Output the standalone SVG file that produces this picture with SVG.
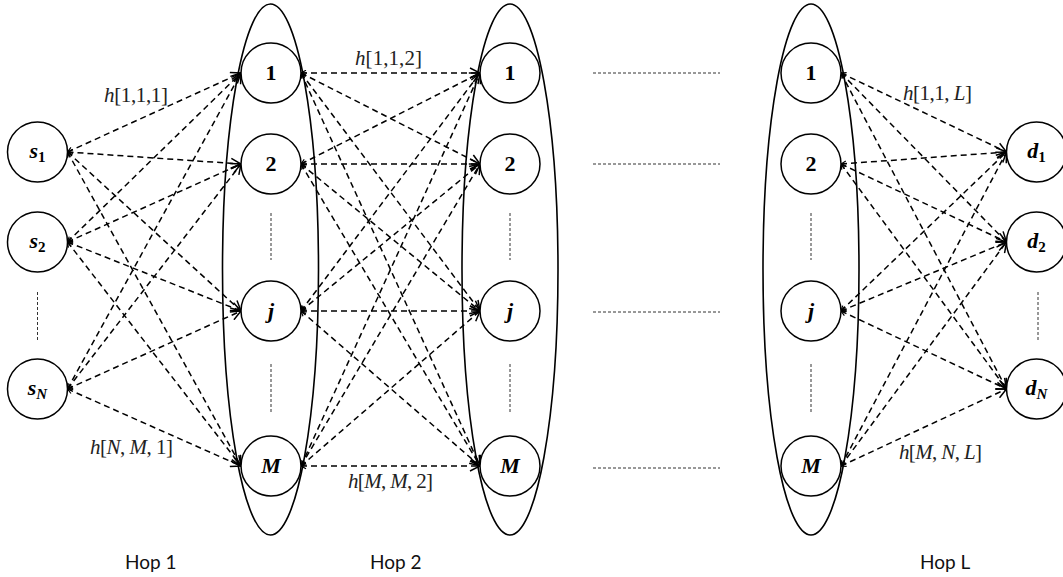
<svg xmlns="http://www.w3.org/2000/svg" width="1063" height="577" viewBox="0 0 1063 577">
<defs>
<style>
.e{fill:none;stroke:#000;stroke-width:1.5;stroke-dasharray:6,4;marker-end:url(#ah);marker-start:url(#at)}
.n{fill:#fff;stroke:#000;stroke-width:1.5}
.ell{fill:none;stroke:#000;stroke-width:1.6}
.dot{stroke:#333;stroke-width:1;stroke-dasharray:3,2}
.lbl{font-family:"Liberation Serif",serif;font-weight:bold;font-size:22px;text-anchor:middle;fill:#000}
.math{font-family:"Liberation Serif",serif;font-size:21px;fill:#222}
.hop{font-family:Lato,"Liberation Sans",sans-serif;font-size:19px;fill:#111}
</style>
<marker id="ah" viewBox="0 0 12 12" refX="11" refY="6" markerWidth="12" markerHeight="12" markerUnits="userSpaceOnUse" orient="auto">
<path d="M1,1 L11,6 L1,11" fill="none" stroke="#000" stroke-width="1.5"/>
</marker>
<marker id="at" viewBox="0 0 7 7" refX="1" refY="3.5" markerWidth="7" markerHeight="7" markerUnits="userSpaceOnUse" orient="auto">
<path d="M6,0.8 L1,3.5 L6,6.2" fill="none" stroke="#000" stroke-width="1.2"/>
</marker>
</defs>
<rect width="1063" height="577" fill="#fff"/>

<g id="hop-ellipses">
<ellipse class="ell" cx="270.5" cy="269.5" rx="48" ry="265.5"/>
<ellipse class="ell" cx="510" cy="269.5" rx="48" ry="265.5"/>
<ellipse class="ell" cx="811" cy="269.5" rx="48" ry="265.5"/>
</g>

<g id="connectors">
<line class="e" x1="67.5" y1="152" x2="241" y2="73"/>
<line class="e" x1="67.5" y1="152" x2="241" y2="164"/>
<line class="e" x1="67.5" y1="152" x2="241" y2="311"/>
<line class="e" x1="67.5" y1="152" x2="241" y2="466"/>
<line class="e" x1="67.5" y1="242" x2="241" y2="73"/>
<line class="e" x1="67.5" y1="242" x2="241" y2="164"/>
<line class="e" x1="67.5" y1="242" x2="241" y2="311"/>
<line class="e" x1="67.5" y1="242" x2="241" y2="466"/>
<line class="e" x1="67.5" y1="389" x2="241" y2="73"/>
<line class="e" x1="67.5" y1="389" x2="241" y2="164"/>
<line class="e" x1="67.5" y1="389" x2="241" y2="311"/>
<line class="e" x1="67.5" y1="389" x2="241" y2="466"/>
<line class="e" x1="301" y1="73" x2="480" y2="73"/>
<line class="e" x1="301" y1="73" x2="480" y2="164"/>
<line class="e" x1="301" y1="73" x2="480" y2="311"/>
<line class="e" x1="301" y1="73" x2="480" y2="466"/>
<line class="e" x1="301" y1="164" x2="480" y2="73"/>
<line class="e" x1="301" y1="164" x2="480" y2="164"/>
<line class="e" x1="301" y1="164" x2="480" y2="311"/>
<line class="e" x1="301" y1="164" x2="480" y2="466"/>
<line class="e" x1="301" y1="311" x2="480" y2="73"/>
<line class="e" x1="301" y1="311" x2="480" y2="164"/>
<line class="e" x1="301" y1="311" x2="480" y2="311"/>
<line class="e" x1="301" y1="311" x2="480" y2="466"/>
<line class="e" x1="301" y1="466" x2="480" y2="73"/>
<line class="e" x1="301" y1="466" x2="480" y2="164"/>
<line class="e" x1="301" y1="466" x2="480" y2="311"/>
<line class="e" x1="301" y1="466" x2="480" y2="466"/>
<line class="e" x1="841" y1="73" x2="1006.5" y2="152"/>
<line class="e" x1="841" y1="73" x2="1006.5" y2="242"/>
<line class="e" x1="841" y1="73" x2="1006.5" y2="389"/>
<line class="e" x1="841" y1="164" x2="1006.5" y2="152"/>
<line class="e" x1="841" y1="164" x2="1006.5" y2="242"/>
<line class="e" x1="841" y1="164" x2="1006.5" y2="389"/>
<line class="e" x1="841" y1="311" x2="1006.5" y2="152"/>
<line class="e" x1="841" y1="311" x2="1006.5" y2="242"/>
<line class="e" x1="841" y1="311" x2="1006.5" y2="389"/>
<line class="e" x1="841" y1="466" x2="1006.5" y2="152"/>
<line class="e" x1="841" y1="466" x2="1006.5" y2="242"/>
<line class="e" x1="841" y1="466" x2="1006.5" y2="389"/>
</g>

<g id="ellipsis-dots">
<line class="dot" x1="37.5" y1="292" x2="37.5" y2="340"/>
<line class="dot" x1="1038" y1="292" x2="1038" y2="340"/>
<line class="dot" x1="271" y1="213" x2="271" y2="260"/>
<line class="dot" x1="271" y1="364" x2="271" y2="412"/>
<line class="dot" x1="510" y1="213" x2="510" y2="260"/>
<line class="dot" x1="510" y1="364" x2="510" y2="412"/>
<line class="dot" x1="811" y1="213" x2="811" y2="260"/>
<line class="dot" x1="811" y1="364" x2="811" y2="412"/>
<line class="dot" x1="593" y1="73" x2="720" y2="73"/>
<line class="dot" x1="593" y1="164" x2="720" y2="164"/>
<line class="dot" x1="593" y1="312" x2="720" y2="312"/>
<line class="dot" x1="593" y1="468" x2="720" y2="468"/>
</g>

<g id="s1"><circle class="n" cx="37.5" cy="152" r="30"/><text class="lbl" x="37.5" y="158"><tspan font-style="italic">s</tspan><tspan font-size="15" dy="4">1</tspan></text></g>
<g id="s2"><circle class="n" cx="37.5" cy="242" r="30"/><text class="lbl" x="37.5" y="248"><tspan font-style="italic">s</tspan><tspan font-size="15" dy="4">2</tspan></text></g>
<g id="sN"><circle class="n" cx="37.5" cy="389" r="30"/><text class="lbl" x="37.5" y="395"><tspan font-style="italic">s</tspan><tspan font-size="15" dy="4" font-style="italic">N</tspan></text></g>

<g id="h1-1"><circle class="n" cx="271" cy="73" r="30"/><text class="lbl" x="271" y="80">1</text></g>
<g id="h1-2"><circle class="n" cx="271" cy="164" r="30"/><text class="lbl" x="271" y="171">2</text></g>
<g id="h1-j"><circle class="n" cx="271" cy="311" r="30"/><text class="lbl" x="271" y="318" font-style="italic">j</text></g>
<g id="h1-M"><circle class="n" cx="271" cy="466" r="30"/><text class="lbl" x="271" y="473" font-style="italic">M</text></g>

<g id="h2-1"><circle class="n" cx="510" cy="73" r="30"/><text class="lbl" x="510" y="80">1</text></g>
<g id="h2-2"><circle class="n" cx="510" cy="164" r="30"/><text class="lbl" x="510" y="171">2</text></g>
<g id="h2-j"><circle class="n" cx="510" cy="311" r="30"/><text class="lbl" x="510" y="318" font-style="italic">j</text></g>
<g id="h2-M"><circle class="n" cx="510" cy="466" r="30"/><text class="lbl" x="510" y="473" font-style="italic">M</text></g>

<g id="hL-1"><circle class="n" cx="811" cy="73" r="30"/><text class="lbl" x="811" y="80">1</text></g>
<g id="hL-2"><circle class="n" cx="811" cy="164" r="30"/><text class="lbl" x="811" y="171">2</text></g>
<g id="hL-j"><circle class="n" cx="811" cy="311" r="30"/><text class="lbl" x="811" y="318" font-style="italic">j</text></g>
<g id="hL-M"><circle class="n" cx="811" cy="466" r="30"/><text class="lbl" x="811" y="473" font-style="italic">M</text></g>

<g id="d1"><circle class="n" cx="1036.5" cy="152" r="30"/><text class="lbl" x="1036.5" y="158"><tspan font-style="italic">d</tspan><tspan font-size="15" dy="4">1</tspan></text></g>
<g id="d2"><circle class="n" cx="1036.5" cy="242" r="30"/><text class="lbl" x="1036.5" y="248"><tspan font-style="italic">d</tspan><tspan font-size="15" dy="4">2</tspan></text></g>
<g id="dN"><circle class="n" cx="1036.5" cy="389" r="30"/><text class="lbl" x="1036.5" y="395"><tspan font-style="italic">d</tspan><tspan font-size="15" dy="4" font-style="italic">N</tspan></text></g>

<g id="labels">
<text class="math" x="104" y="102" textLength="64" lengthAdjust="spacing"><tspan font-style="italic">h</tspan>[1,1,1]</text>
<text class="math" x="355" y="65" textLength="67" lengthAdjust="spacing"><tspan font-style="italic">h</tspan>[1,1,2]</text>
<text class="math" x="90" y="454" textLength="83" lengthAdjust="spacing"><tspan font-style="italic">h</tspan>[<tspan font-style="italic">N</tspan>, <tspan font-style="italic">M</tspan>, 1]</text>
<text class="math" x="348" y="488" textLength="85" lengthAdjust="spacing"><tspan font-style="italic">h</tspan>[<tspan font-style="italic">M</tspan>, <tspan font-style="italic">M</tspan>, 2]</text>
<text class="math" x="903" y="100" textLength="69" lengthAdjust="spacing"><tspan font-style="italic">h</tspan>[1,1, <tspan font-style="italic">L</tspan>]</text>
<text class="math" x="899" y="459" textLength="83" lengthAdjust="spacing"><tspan font-style="italic">h</tspan>[<tspan font-style="italic">M</tspan>, <tspan font-style="italic">N</tspan>, <tspan font-style="italic">L</tspan>]</text>
<text class="hop" x="125" y="569">Hop 1</text>
<text class="hop" x="370" y="569">Hop 2</text>
<text class="hop" x="920" y="569">Hop L</text>
</g>
</svg>
